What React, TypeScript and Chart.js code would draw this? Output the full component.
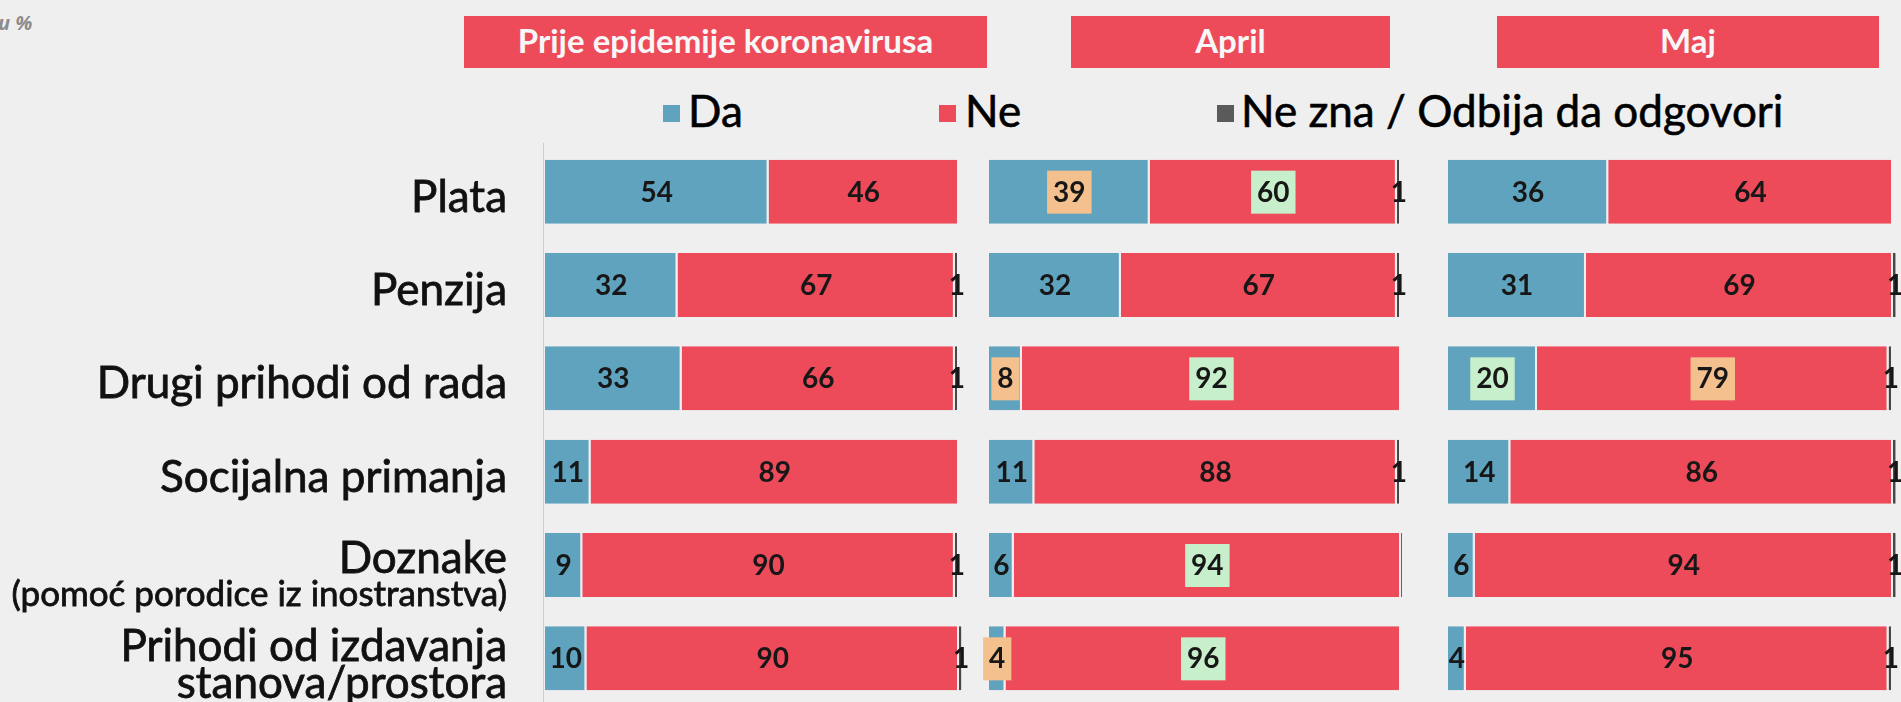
import React, { useEffect, useRef } from "react";
import { Chart, registerables } from "chart.js";

Chart.register(...registerables);

// ---------- data ----------
const categories: string[][] = [
  ["Plata"],
  ["Penzija"],
  ["Drugi prihodi od rada"],
  ["Socijalna primanja"],
  ["Doznake", "(pomoć porodice iz inostranstva)"],
  ["Prihodi od izdavanja", "stanova/prostora"],
];
const periods = ["Prije epidemije koronavirusa", "April", "Maj"];
const seriesNames = ["Da", "Ne", "Ne zna / Odbija da odgovori"];

const prijeDa = [54, 32, 33, 11, 9, 10];
const prijeNe = [46, 67, 66, 89, 90, 90];
const prijeNz = [0, 1, 1, 0, 1, 1];

const aprilDa = [39, 32, 8, 11, 6, 4];
const aprilNe = [60, 67, 92, 88, 94, 96];
const aprilNz = [1, 1, 0, 1, 0.4, 0];

const majDa = [36, 31, 20, 14, 6, 4];
const majNe = [64, 69, 79, 86, 94, 95];
const majNz = [0, 1, 1, 1, 1, 1];

// highlighted value labels: "o" = orange box, "g" = green box
const prijeMarks = [["", "", "", "", "", ""], ["", "", "", "", "", ""], ["", "", "", "", "", ""]];
const aprilMarks = [["o", "", "o", "", "", "o"], ["g", "", "g", "", "g", "g"], ["", "", "", "", "", ""]];
const majMarks = [["", "", "g", "", "", ""], ["", "", "o", "", "", ""], ["", "", "", "", "", ""]];

// ---------- styles ----------
const BG = "#efefef";
const BLUE = "#5fa3bf";
const RED = "#ee4b5a";
const GRAY = "#474747";
const FONT = "Lato, 'Open Sans', sans-serif";

const valueLabels = {
  id: "valueLabels",
  afterDatasetsDraw(chart: any, _args: any, opts: any) {
    const ctx = chart.ctx;
    ctx.save();
    ctx.font = `bold 28px ${FONT}`;
    ctx.textAlign = "center";
    ctx.textBaseline = "middle";
    chart.data.datasets.forEach((ds: any, di: number) => {
      const meta = chart.getDatasetMeta(di);
      meta.data.forEach((el: any, i: number) => {
        const r = Math.round(ds.data[i]);
        if (!r) return;
        const { x, base, y } = el.getProps(["x", "base", "y"], true);
        const cx = (x + base) / 2;
        const txt = String(r);
        const mark = opts.marks?.[di]?.[i];
        if (mark) {
          const w = ctx.measureText(txt).width + 12;
          ctx.fillStyle = mark === "o" ? "#f4c08e" : "#c8efcb";
          ctx.fillRect(cx - w / 2, y - 21, w, 43);
        }
        ctx.fillStyle = "#171717";
        ctx.fillText(txt, cx, y + 1);
      });
    });
    ctx.restore();
  },
};

const categoryLabels = {
  id: "categoryLabels",
  afterDraw(chart: any, _args: any, opts: any) {
    if (!opts.show) return;
    const ctx = chart.ctx;
    const ys = chart.scales.y;
    const area = chart.chartArea;
    ctx.save();
    ctx.strokeStyle = "#cdcdcd";
    ctx.lineWidth = 1;
    ctx.beginPath();
    ctx.moveTo(area.left - 1.5, area.top - 2);
    ctx.lineTo(area.left - 1.5, chart.height);
    ctx.stroke();
    ctx.textAlign = "right";
    ctx.textBaseline = "alphabetic";
    ctx.fillStyle = "#111";
    ctx.strokeStyle = "#111";
    ctx.lineWidth = 0.8;
    const xr = opts.x;
    const put = (t: string, y: number) => {
      ctx.fillText(t, xr, y);
      ctx.strokeText(t, xr, y);
    };
    categories.forEach((lines, i) => {
      const yc = ys.getPixelForValue(i);
      if (lines.length === 1) {
        ctx.font = `44px ${FONT}`;
        put(lines[0], yc + 20);
      } else if (i === 4) {
        ctx.font = `44px ${FONT}`;
        put(lines[0], yc + 8);
        ctx.font = `35px ${FONT}`;
        put(lines[1], yc + 41);
      } else {
        ctx.font = `44px ${FONT}`;
        put(lines[0], yc + 3);
        put(lines[1], yc + 40);
      }
    });
    ctx.restore();
  },
};

type PanelDef = {
  left: number;
  width: number;
  padLeft: number;
  padRight: number;
  da: number[];
  ne: number[];
  nz: number[];
  marks: string[][];
  showCats: boolean;
};

const panels: PanelDef[] = [
  { left: 0, width: 1000, padLeft: 545, padRight: 41, da: prijeDa, ne: prijeNe, nz: prijeNz, marks: prijeMarks, showCats: true },
  { left: 980, width: 440, padLeft: 9, padRight: 19, da: aprilDa, ne: aprilNe, nz: aprilNz, marks: aprilMarks, showCats: false },
  { left: 1420, width: 481, padLeft: 28, padRight: 8, da: majDa, ne: majNe, nz: majNz, marks: majMarks, showCats: false },
];

const CANVAS_H = 706;

export default function App() {
  const refs = [useRef<HTMLCanvasElement>(null), useRef<HTMLCanvasElement>(null), useRef<HTMLCanvasElement>(null)];

  useEffect(() => {
    document.body.style.margin = "0";
    document.body.style.background = BG;
    const charts: Chart[] = [];
    panels.forEach((p, pi) => {
      const cv = refs[pi].current;
      if (!cv) return;
      const common = {
        categoryPercentage: 1,
        barPercentage: 0.686,
        borderWidth: { left: 0, top: 0, bottom: 0, right: 2 },
        borderColor: BG,
        borderSkipped: false,
        clip: false as any,
      };
      const chart = new Chart(cv, {
        type: "bar",
        data: {
          labels: categories.map((c) => c.join(" ")),
          datasets: [
            { label: seriesNames[0], data: p.da, backgroundColor: BLUE, ...common },
            { label: seriesNames[1], data: p.ne, backgroundColor: RED, ...common },
            { label: seriesNames[2], data: p.nz, backgroundColor: GRAY, ...common },
          ],
        },
        options: {
          indexAxis: "y",
          animation: false,
          responsive: false,
          maintainAspectRatio: false,
          layout: { padding: { left: p.padLeft, right: p.padRight, top: 145, bottom: 1 } },
          scales: {
            x: { stacked: true, min: 0, max: 100, display: false },
            y: { stacked: true, display: false },
          },
          plugins: {
            legend: { display: false },
            tooltip: { enabled: false },
            valueLabels: { marks: p.marks },
            categoryLabels: { show: p.showCats, x: 507 },
          } as any,
        },
        plugins: [valueLabels, categoryLabels],
      });
      charts.push(chart);
    });
    return () => charts.forEach((c) => c.destroy());
  }, []);

  const headerBoxes = [
    { left: 464, width: 523 },
    { left: 1071, width: 319 },
    { left: 1497, width: 382 },
  ];
  const legendItems = [
    { marker: 663, text: 688, color: BLUE },
    { marker: 939, text: 965, color: RED },
    { marker: 1217, text: 1241, color: "#5a5a5a" },
  ];

  return (
    <div style={{ position: "absolute", left: 0, top: 0, width: 1901, height: 702, overflow: "hidden", background: BG, fontFamily: FONT }}>
      <div style={{ position: "absolute", left: -2, top: 9, fontSize: 20, fontWeight: 700, fontStyle: "italic", color: "#8c8c8c", fontFamily: "'Open Sans', sans-serif" }}>u %</div>
      {headerBoxes.map((h, i) => (
        <div key={i} style={{ position: "absolute", left: h.left, top: 16, width: h.width, height: 52, background: RED, color: "#f7f7f7", fontSize: 33, fontWeight: 700, display: "flex", alignItems: "center", justifyContent: "center", paddingBottom: 4, boxSizing: "border-box" }}>
          {periods[i]}
        </div>
      ))}
      {legendItems.map((l, i) => (
        <React.Fragment key={i}>
          <div style={{ position: "absolute", left: l.marker, top: 105, width: 17, height: 17, background: l.color }} />
          <div style={{ position: "absolute", left: l.text, top: 83, fontSize: 44, lineHeight: "54px", color: "#000", whiteSpace: "nowrap", WebkitTextStroke: "0.6px #000" }}>{seriesNames[i]}</div>
        </React.Fragment>
      ))}
      {panels.map((p, i) => (
        <canvas key={i} ref={refs[i]} width={p.width} height={CANVAS_H} style={{ position: "absolute", left: p.left, top: 0, width: p.width, height: CANVAS_H }} />
      ))}
    </div>
  );
}
